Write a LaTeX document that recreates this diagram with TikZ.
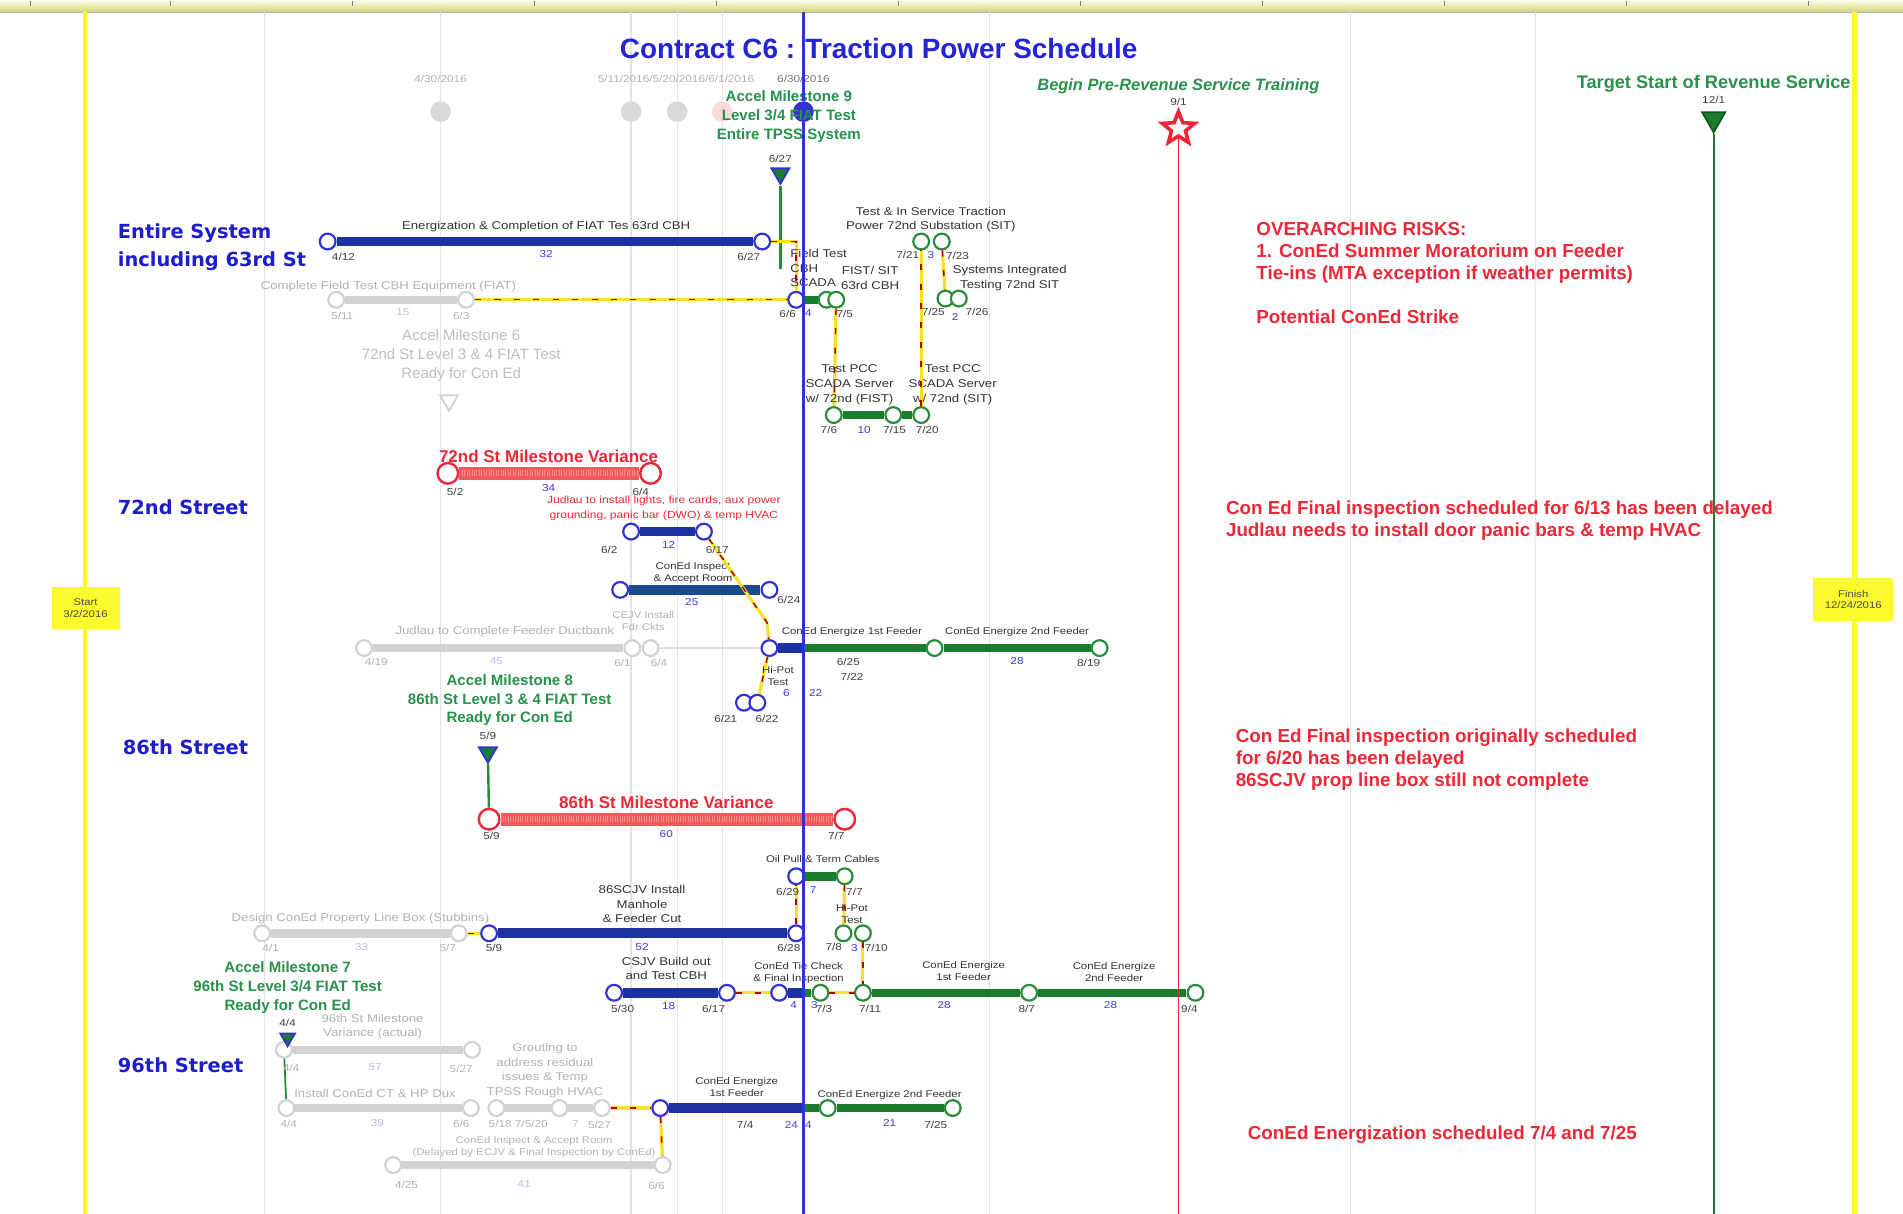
\documentclass[tikz,border=0pt]{standalone}
\usepackage{fontspec}
\setmainfont{Liberation Sans}
\newfontfamily\smallfont{Liberation Sans}[FakeStretch=1.17]
\newfontfamily\headfont{DejaVu Sans}
\usetikzlibrary{shapes.geometric}

\definecolor{ttlblue}{RGB}{35,35,215}
\definecolor{hdblue}{RGB}{30,30,200}
\definecolor{barblue}{RGB}{28,50,160}
\definecolor{tealblue}{RGB}{25,75,140}
\definecolor{msblue}{RGB}{50,50,210}
\definecolor{durblue}{RGB}{60,60,220}
\definecolor{bargreen}{RGB}{25,125,45}
\definecolor{msgreen}{RGB}{40,140,60}
\definecolor{accgreen}{RGB}{40,145,75}
\definecolor{notered}{RGB}{235,40,55}
\definecolor{barred}{RGB}{240,90,90}
\definecolor{linkyellow}{RGB}{245,225,40}
\definecolor{startyellow}{RGB}{250,250,45}

\tikzset{
  ms/.style={circle, draw, fill=white, line width=1.8pt, minimum size=13pt, inner sep=0pt},
  bluems/.style={ms, draw=msblue},
  greenms/.style={ms, draw=msgreen},
  grayms/.style={ms, draw=gray!35},
  redms/.style={ms, draw=notered, minimum size=17pt, line width=2pt},
  topms/.style={circle, fill=gray!30, minimum size=17pt, inner sep=0pt},
  bluebar/.style={draw=barblue, line width=8pt},
  greenbar/.style={draw=bargreen, line width=7pt},
  graybar/.style={draw=gray!35, line width=7pt},
  redbar/.style={draw=barred, line width=11pt, postaction={draw=red!45, line width=5pt, dash pattern=on 0.8pt off 1.2pt}},
  tielink/.style={draw=linkyellow, line width=2.6pt, postaction={draw=red!70!black, line width=1.2pt, dash pattern=on 5pt off 11pt}},
  mstri/.style={regular polygon, regular polygon sides=3, shape border rotate=180, draw=msblue, fill=bargreen, line width=1.5pt, minimum size=17pt, inner sep=0pt},
  task/.style={font=\smallfont\fontsize{9.3}{12}\selectfont, text=black!80, align=center, inner sep=0pt},
  tinytask/.style={task, font=\smallfont\fontsize{8}{10}\selectfont},
  ghost/.style={task, text=black!30},
  redsmall/.style={tinytask, text=notered, font=\smallfont\fontsize{8.5}{12.4}\selectfont},
  dt/.style={font=\smallfont\fontsize{8.3}{10}\selectfont, text=black!75, inner sep=0pt},
  ghostdt/.style={dt, text=black!30},
  dur/.style={dt, text=durblue},
  ghostdur/.style={dt, text=durblue!35},
  street/.style={font=\headfont\bfseries\fontsize{16}{23}\selectfont, text=hdblue, anchor=west, align=left, inner sep=0pt},
  accel/.style={font=\bfseries\fontsize{12.4}{15.5}\selectfont, text=accgreen, align=center, inner sep=0pt},
  note/.style={font=\bfseries\fontsize{15.5}{18}\selectfont, text=notered, anchor=west, align=left, inner sep=0pt},
  variance/.style={font=\bfseries\fontsize{14}{16}\selectfont, text=notered, inner sep=0pt},
  gridline/.style={draw=gray!22, line width=1pt},
  endbox/.style={fill=startyellow, font=\smallfont\fontsize{8}{9.5}\selectfont, text=black!70, align=center, minimum width=56pt, minimum height=35pt}
}

\begin{document}
\begin{tikzpicture}[x=1pt, y=-1pt]
  \useasboundingbox (0,0) rectangle (1568,1000);
  \fill[white] (0,0) rectangle (1568,1000);

  % time scale and grid
  \shade[top color=yellow!8, bottom color=olive!35] (0,0) rectangle (1568,10);
  \draw[gray!60] (0,10) -- (1568,10);
  \foreach \x in {25,140,290,440,590,740,890,1040,1190,1340,1490}
    \draw[black!50] (\x,1) -- (\x,5);
  \foreach \x in {218,363,520,558,595,815,1113,1265}
    \draw[gridline] (\x,10) -- (\x,1000);
  \draw[startyellow, line width=3.5pt] (70,10) -- (70,1000);
  \draw[startyellow, line width=3.5pt] (1528,10) -- (1528,1000);
  \node[endbox] (start) at (70.5,501) {Start\\3/2/2016};
  \node[endbox, minimum width=66pt] (finish) at (1527,494) {Finish\\12/24/2016};

  \node[font=\bfseries\fontsize{23}{26}\selectfont, text=ttlblue] (title) at (724,40) {Contract C6 : Traction Power Schedule};

  % milestones on top
  \node[ghostdt] (top1) at (363,65) {4/30/2016};
  \node[ghostdt] (top2) at (557,65) {5/11/2016/5/20/2016/6/1/2016};
  \node[dt, text=black!55] (top3) at (662,65) {6/30/2016};
  \node[topms] (tm1) at (363,92) {};
  \node[topms] (tm2) at (520,92) {};
  \node[topms] (tm3) at (558,92) {};
  \node[topms, fill=red!15] (tm4) at (595,92) {};
  \node[topms, fill=msblue] (tm5) at (662,92) {};
  \node[accel] (am9) at (650,96) {Accel Milestone 9\\Level 3/4 FIAT Test\\Entire TPSS System};
  \node[mstri] (tri9) at (643,143) {};
  \coordinate (am9end) at (643,222);
  \draw[msgreen, line width=2pt] (tri9) -- (am9end);

  % entire system
  \node[street] (sys) at (97,204) {Entire System\\including 63rd St};
  \node[bluems] (e1) at (270,199) {};
  \node[bluems] (e2) at (628,199) {};
  \draw[bluebar] (e1) -- (e2);
  \node[task] (e1lbl) at (450,187) {Energization \& Completion of FIAT Tes 63rd CBH};
  \node[grayms] (g1) at (277,247) {};
  \node[grayms] (g2) at (384,247) {};
  \draw[graybar] (g1) -- (g2);
  \node[ghost] (g1lbl) at (320,236) {Complete Field Test CBH Equipment (FIAT)};
  \node[bluems] (f1) at (656,247) {};
  \node[greenms] (f2) at (681,247) {};
  \node[greenms] (f3) at (689,247) {};
  \coordinate (f1now) at (662,247);
  \draw[bluebar] (f1) -- (f1now);
  \draw[greenbar] (f1now) -- (f2);
  \draw[tielink] (g2) -- (f1);
  \draw[tielink] (e2) -| (f1);
  \node[task, anchor=west, align=left] (f1lbl) at (651,221) {Field Test\\CBH\\SCADA};
  \node[task] (f2lbl) at (717,229) {FIST/ SIT\\63rd CBH};
  \node[greenms] (p1) at (687,342) {};
  \node[greenms] (p2) at (736,342) {};
  \node[greenms] (p3) at (759,342) {};
  \draw[greenbar] (p1) -- (p2);
  \draw[greenbar] (p2) -- (p3);
  \draw[tielink] (f3) -- (p1);
  \node[task] (p1lbl) at (700,317) {Test PCC\\SCADA Server\\w/ 72nd (FIST)};
  \node[task] (p3lbl) at (785,317) {Test PCC\\SCADA Server\\w/ 72nd (SIT)};
  \node[greenms] (t1) at (759,199) {};
  \node[greenms] (t2) at (776,199) {};
  \draw[tielink] (p3) -- (t1);
  \node[task] (t1lbl) at (767,181) {Test \& In Service Traction\\Power 72nd Substation (SIT)};
  \node[greenms] (s1) at (779,246) {};
  \node[greenms] (s2) at (790,246) {};
  \draw[tielink] (t2) -- (s1);
  \node[task] (s1lbl) at (832,229) {Systems Integrated\\Testing 72nd SIT};
  \node[accel, text=black!25, font=\fontsize{12.4}{15.5}\selectfont] (am6) at (380,293) {Accel Milestone 6\\72nd St Level 3 \& 4 FIAT Test\\Ready for Con Ed};
  \node[mstri, draw=gray!35, fill=white] (tri6) at (370,330) {};

  % 72nd Street
  \node[street] (st72) at (97,418) {72nd Street};
  \node[redms] (r72a) at (369,390) {};
  \node[redms] (r72b) at (536,390) {};
  \draw[redbar] (r72a) -- (r72b);
  \node[variance] (v72) at (452,376) {72nd St Milestone Variance};
  \node[redsmall] (jud) at (547,419) {Judlau to install lights, fire cards, aux power\\grounding, panic bar (DWO) \& temp HVAC};
  \node[bluems] (b72a) at (520,438) {};
  \node[bluems] (b72b) at (580,438) {};
  \draw[bluebar] (b72a) -- (b72b);
  \node[tinytask] (ci72) at (571,472) {ConEd Inspect\\\& Accept Room};
  \node[bluems] (k72a) at (511,486) {};
  \node[bluems] (k72b) at (634,486) {};
  \draw[bluebar, draw=tealblue] (k72a) -- (k72b);
  \node[grayms] (j72a) at (300,534) {};
  \node[grayms] (j72b) at (521,534) {};
  \node[grayms] (j72c) at (536,534) {};
  \draw[graybar] (j72a) -- (j72b);
  \node[ghost] (j72lbl) at (416,520) {Judlau to Complete Feeder Ductbank};
  \node[ghost, font=\smallfont\fontsize{8}{10}\selectfont] (cj72lbl) at (530,512) {CEJV Install\\Fdr Ckts};
  \node[bluems] (n72a) at (634,534) {};
  \node[greenms] (n72b) at (770,534) {};
  \node[greenms] (n72c) at (906,534) {};
  \draw[gray!25, line width=1pt] (j72c) -- (n72a);
  \coordinate (n72now) at (662,534);
  \draw[bluebar] (n72a) -- (n72now);
  \draw[greenbar] (n72now) -- (n72b);
  \draw[greenbar] (n72b) -- (n72c);
  \node[tinytask] (n72lbl1) at (702,521) {ConEd Energize 1st Feeder};
  \node[tinytask] (n72lbl2) at (838,521) {ConEd Energize 2nd Feeder};
  \coordinate (k72bend) at (632,513);
  \draw[tielink] (b72b) -- (k72bend) -- (n72a);
  \node[bluems] (h72a) at (613,579) {};
  \node[bluems] (h72b) at (624,579) {};
  \draw[tielink] (n72a) -- (h72b);
  \node[tinytask] (h72lbl) at (641,557) {Hi-Pot\\Test};

  % 86th Street
  \node[accel] (am8) at (420,577) {Accel Milestone 8\\86th St Level 3 \& 4 FIAT Test\\Ready for Con Ed};
  \node[mstri] (tri86) at (402,620) {};
  \node[street] (st86) at (101,616) {86th Street};
  \node[redms] (r86a) at (403,675) {};
  \node[redms] (r86b) at (696,675) {};
  \draw[msgreen, line width=2pt] (tri86) -- (r86a);
  \draw[redbar] (r86a) -- (r86b);
  \node[variance] (v86) at (549,661) {86th St Milestone Variance};
  \node[tinytask] (oillbl) at (678,708) {Oil Pull \& Term Cables};
  \node[bluems] (o86a) at (656,722) {};
  \node[greenms] (o86b) at (696,722) {};
  \draw[greenbar] (o86a) -- (o86b);
  \node[grayms] (u86a) at (216,769) {};
  \node[grayms] (u86b) at (378,769) {};
  \draw[graybar] (u86a) -- (u86b);
  \node[ghost] (u86lbl) at (297,757) {Design ConEd Property Line Box (Stubbins)};
  \node[bluems] (m86a) at (403,769) {};
  \node[bluems] (m86b) at (656,769) {};
  \draw[bluebar] (m86a) -- (m86b);
  \draw[tielink] (u86b) -- (m86a);
  \draw[tielink] (m86b) -- (o86a);
  \node[task] (m86lbl) at (529,745) {86SCJV Install\\Manhole\\\& Feeder Cut};
  \node[greenms] (h86a) at (695,769) {};
  \node[greenms] (h86b) at (711,769) {};
  \draw[tielink] (o86b) -- (h86a);
  \node[tinytask] (h86lbl) at (702,753) {Hi-Pot\\Test};
  \node[bluems] (c86a) at (506,818) {};
  \node[bluems] (c86b) at (599,818) {};
  \draw[bluebar] (c86a) -- (c86b);
  \node[task] (c86lbl) at (549,798) {CSJV Build out\\and Test CBH};
  \node[bluems] (t86a) at (642,818) {};
  \node[greenms] (t86b) at (676,818) {};
  \coordinate (t86now) at (662,818);
  \draw[bluebar] (t86a) -- (t86now);
  \draw[greenbar] (t86now) -- (t86b);
  \draw[tielink] (c86b) -- (t86a);
  \node[tinytask] (t86lbl) at (658,802) {ConEd Tie Check\\\& Final Inspection};
  \node[greenms] (e86a) at (711,818) {};
  \node[greenms] (e86b) at (848,818) {};
  \node[greenms] (e86c) at (985,818) {};
  \draw[greenbar] (e86a) -- (e86b);
  \draw[greenbar] (e86b) -- (e86c);
  \draw[tielink] (t86b) -- (e86a);
  \draw[tielink] (h86b) -- (e86a);
  \node[tinytask] (e86lbl1) at (794,800) {ConEd Energize\\1st Feeder};
  \node[tinytask] (e86lbl2) at (918,801) {ConEd Energize\\2nd Feeder};

  % 96th Street
  \node[accel] (am7) at (237,814) {Accel Milestone 7\\96th St Level 3/4 FIAT Test\\Ready for Con Ed};
  \node[street] (st96) at (97,878) {96th Street};
  \node[ghost] (mv96) at (307,846) {96th St Milestone\\Variance (actual)};
  \node[grayms] (v96a) at (234,865) {};
  \node[grayms] (v96b) at (389,865) {};
  \draw[graybar] (v96a) -- (v96b);
  \node[mstri, minimum size=14pt] (tri96) at (237,855) {};
  \node[grayms] (i96a) at (236,913) {};
  \node[grayms] (i96b) at (388,913) {};
  \draw[graybar] (i96a) -- (i96b);
  \draw[msgreen, line width=1.5pt] (v96a) -- (i96a);
  \node[ghost] (i96lbl) at (309,901) {Install ConEd CT \& HP Dux};
  \node[ghost] (gr96) at (449,882) {Grouting to\\address residual\\issues \& Temp\\TPSS Rough HVAC};
  \node[grayms] (q96a) at (409,913) {};
  \node[grayms] (q96b) at (461,913) {};
  \node[grayms] (q96c) at (496,913) {};
  \draw[graybar] (q96a) -- (q96b);
  \draw[graybar] (q96b) -- (q96c);
  \node[bluems] (e96a) at (544,913) {};
  \node[greenms] (e96b) at (682,913) {};
  \node[greenms] (e96c) at (785,913) {};
  \coordinate (e96now) at (662,913);
  \draw[bluebar] (e96a) -- (e96now);
  \draw[greenbar] (e96now) -- (e96b);
  \draw[greenbar] (e96b) -- (e96c);
  \draw[tielink] (q96c) -- (e96a);
  \node[tinytask] (e96lbl1) at (607,896) {ConEd Energize\\1st Feeder};
  \node[tinytask] (e96lbl2) at (733,902) {ConEd Energize 2nd Feeder};
  \node[grayms] (a96a) at (324,960) {};
  \node[grayms] (a96b) at (546,960) {};
  \draw[graybar] (a96a) -- (a96b);
  \draw[tielink] (e96a) -- (a96b);
  \node[ghost, font=\smallfont\fontsize{8}{10.5}\selectfont] (a96lbl) at (440,945) {ConEd Inspect \& Accept Room\\(Delayed by ECJV \& Final Inspection by ConEd)};

  % dates and durations
  \foreach \x/\y/\lab [count=\i] in {283/212/{4/12}, 617/212/{6/27}, 643/131/{6/27}, 649/259/{6/6}, 696/259/{7/5},
      748/210/{7/21}, 789/211/{7/23}, 769/257/{7/25}, 805/257/{7/26}, 683/354/{7/6}, 737/354/{7/15}, 764/354/{7/20},
      375/405/{5/2}, 528/405/{6/4}, 502/453/{6/2}, 591/453/{6/17}, 650/494/{6/24}, 699/545/{6/25}, 702/558/{7/22},
      897/546/{8/19}, 598/592/{6/21}, 632/592/{6/22}, 402/606/{5/9}, 405/689/{5/9}, 689/689/{7/7}, 649/735/{6/29},
      704/735/{7/7}, 407/781/{5/9}, 650/781/{6/28}, 687/780/{7/8}, 722/781/{7/10}, 513/831/{5/30}, 588/831/{6/17},
      679/831/{7/3}, 717/831/{7/11}, 846/831/{8/7}, 980/831/{9/4}, 237/843/{4/4}, 614/927/{7/4}, 771/927/{7/25},
      971/84/{9/1}, 1412/82/{12/1}}
    \node[dt] (dt\i) at (\x,\y) {\lab};
  \foreach \x/\y/\lab [count=\i] in {282/260/{5/11}, 380/260/{6/3}, 310/545/{4/19}, 513/546/{6/1}, 543/546/{6/4},
      223/781/{4/1}, 369/781/{5/7}, 240/880/{4/4}, 380/881/{5/27}, 238/926/{4/4}, 380/926/{6/6},
      427/926/{5/18 7/5/20}, 494/927/{5/27}, 335/976/{4/25}, 541/977/{6/6}}
    \node[ghostdt] (gd\i) at (\x,\y) {\lab};
  \foreach \x/\y/\lab [count=\i] in {450/209/32, 666/258/4, 767/210/3, 787/261/2, 712/354/10, 452/402/34,
      551/449/12, 570/496/25, 838/545/28, 648/571/6, 672/571/22, 549/687/60, 670/733/7, 529/780/52, 704/781/3,
      551/829/18, 654/828/4, 671/828/3, 778/828/28, 915/828/28, 652/927/24, 666/927/4, 733/925/21}
    \node[dur] (du\i) at (\x,\y) {\lab};
  \foreach \x/\y/\lab [count=\i] in {332/257/15, 409/545/45, 298/780/33, 309/879/57, 311/925/39, 474/926/7, 432/976/41}
    \node[ghostdur] (gu\i) at (\x,\y) {\lab};

  % key dates on the right
  \node[font=\bfseries\itshape\fontsize{13.5}{16}\selectfont, text=accgreen] (prs) at (971,71) {Begin Pre-Revenue Service Training};
  \node[star, star points=5, star point ratio=2.3, draw=notered, fill=white, line width=3pt, minimum size=28pt, inner sep=0pt] (star9) at (971,106) {};
  \coordinate (redend) at (971,1000);
  \draw[notered, line width=1.5pt] (star9) -- (redend);
  \node[font=\bfseries\fontsize{15}{17}\selectfont, text=accgreen] (tsr) at (1412,69) {Target Start of Revenue Service};
  \node[mstri, draw=bargreen!70!black, minimum size=22pt] (tri12) at (1412,98) {};
  \coordinate (greenend) at (1412,1000);
  \draw[bargreen, line width=1.5pt] (tri12) -- (greenend);

  % status date line
  \coordinate (nowtop) at (662,10);
  \coordinate (nowbot) at (662,1000);
  \draw[msblue, line width=2pt] (nowtop) -- (tm5) -- (nowbot);

  % notes
  \node[note] (risk) at (1035,225) {OVERARCHING RISKS:\\1. ConEd Summer Moratorium on Feeder\\Tie-ins (MTA exception if weather permits)\\[18pt]Potential ConEd Strike};
  \node[note] (n72) at (1010,429) {Con Ed Final inspection scheduled for 6/13 has been delayed\\Judlau needs to install door panic bars \& temp HVAC};
  \node[note] (n86) at (1018,626) {Con Ed Final inspection originally scheduled\\for 6/20 has been delayed\\86SCJV prop line box still not complete};
  \node[note] (n96) at (1028,935) {ConEd Energization scheduled 7/4 and 7/25};
\end{tikzpicture}
\end{document}
